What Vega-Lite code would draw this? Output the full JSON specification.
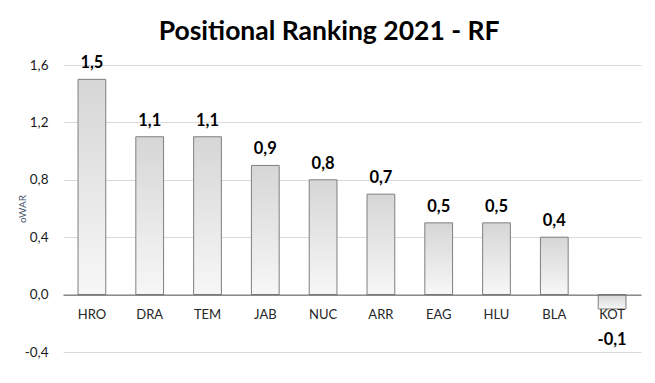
{
  "$schema": "https://vega.github.io/schema/vega-lite/v6.json",
  "width": 578,
  "height": 287,
  "autosize": {"type": "pad"},
  "padding": {"left": 17, "top": 19, "right": 15, "bottom": 31},
  "background": "white",
  "title": {"text": "Positional Ranking 2021 - RF", "font": "Lato", "fontSize": 26.5, "fontWeight": "bold", "color": "#000000", "anchor": "middle", "frame": "bounds", "offset": 9.5},
  "config": {
    "locale": {"number": {"decimal": ",", "thousands": ".", "grouping": [3], "currency": ["", " €"], "minus": "-"}},
    "view": {"stroke": null},
    "font": "Lato"
  },
  "data": {"values": [
    {"player": "HRO", "oWAR": 1.5},
    {"player": "DRA", "oWAR": 1.1},
    {"player": "TEM", "oWAR": 1.1},
    {"player": "JAB", "oWAR": 0.9},
    {"player": "NUC", "oWAR": 0.8},
    {"player": "ARR", "oWAR": 0.7},
    {"player": "EAG", "oWAR": 0.5},
    {"player": "HLU", "oWAR": 0.5},
    {"player": "BLA", "oWAR": 0.4},
    {"player": "KOT", "oWAR": -0.1}
  ]},
  "encoding": {
    "x": {
      "field": "player", "type": "nominal", "sort": null,
      "scale": {"paddingInner": 0.52, "paddingOuter": 0.26},
      "axis": {"title": null, "offset": -57.4, "domainColor": "#595959", "domainWidth": 1, "ticks": false, "labelAngle": 0, "labelFont": "Lato", "labelFontSize": 13, "labelColor": "#262626", "labelPadding": 14, "zindex": 1}
    },
    "y": {
      "field": "oWAR", "type": "quantitative",
      "scale": {"domain": [-0.4, 1.6], "nice": false, "zero": false},
      "axis": {"title": "oWAR", "titleFont": "Lato", "titleFontSize": 10, "titleFontWeight": "normal", "titleColor": "#44546a", "titlePadding": -3, "values": [-0.4, 0, 0.4, 0.8, 1.2, 1.6], "format": ".1f", "domain": false, "ticks": false, "labelPadding": 15, "labelFont": "Lato", "labelFontSize": 13.5, "labelColor": "#1a1a1a", "gridColor": "#d9d9d9", "gridWidth": 1, "zindex": 0}
    }
  },
  "layer": [
    {
      "mark": {
        "type": "bar",
        "fill": {"gradient": "linear", "x1": 0, "y1": 0, "x2": 0, "y2": 1, "stops": [{"offset": 0, "color": "#d6d6d6"}, {"offset": 1, "color": "#f7f7f7"}]},
        "stroke": "#7f7f7f",
        "strokeWidth": 1
      }
    },
    {
      "transform": [{"filter": "datum.oWAR >= 0"}],
      "mark": {"type": "text", "baseline": "alphabetic", "dy": -11, "font": "Lato", "fontSize": 16.5, "fontWeight": "bold", "color": "#000000"},
      "encoding": {"text": {"field": "oWAR", "type": "quantitative", "format": ".1f"}}
    },
    {
      "transform": [{"filter": "datum.oWAR < 0"}],
      "mark": {"type": "text", "baseline": "alphabetic", "dy": 36, "font": "Lato", "fontSize": 16.5, "fontWeight": "bold", "color": "#000000"},
      "encoding": {"text": {"field": "oWAR", "type": "quantitative", "format": ".1f"}}
    }
  ]
}
